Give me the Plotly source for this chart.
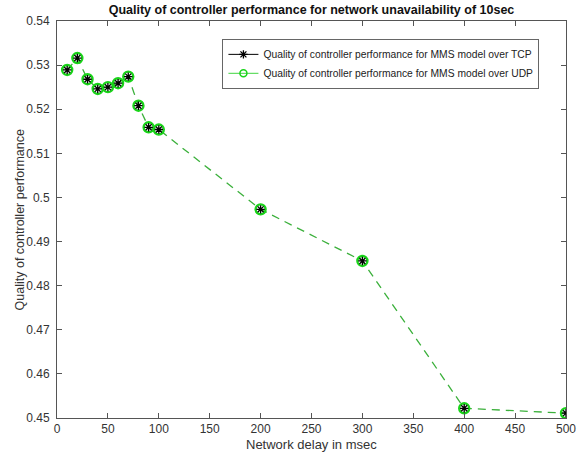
import plotly.graph_objects as go

delay_ms = [10, 20, 30, 40, 50, 60, 70, 80, 90, 100, 200, 300, 400, 500]
tcp_quality = [0.5289, 0.5316, 0.5268, 0.5246, 0.5250, 0.5259, 0.5274, 0.5208, 0.5159, 0.5154, 0.4973, 0.4856, 0.4522, 0.4511]
udp_quality = [0.5289, 0.5316, 0.5268, 0.5246, 0.5250, 0.5259, 0.5274, 0.5208, 0.5159, 0.5154, 0.4973, 0.4856, 0.4522, 0.4511]

x_ticks = [0, 50, 100, 150, 200, 250, 300, 350, 400, 450, 500]
y_ticks = [0.45, 0.46, 0.47, 0.48, 0.49, 0.50, 0.51, 0.52, 0.53, 0.54]
y_tick_text = ["0.45", "0.46", "0.47", "0.48", "0.49", "0.5", "0.51", "0.52", "0.53", "0.54"]

tcp_name = "Quality of controller performance for MMS model over TCP"
udp_name = "Quality of controller performance for MMS model over UDP"

GREEN = "#19d419"
LINE_GREEN = "#3bb03b"
FONT = "Liberation Sans, Arial, sans-serif"

fig = go.Figure()

# data traces
fig.add_trace(go.Scatter(
    x=delay_ms, y=udp_quality, mode="lines+markers", showlegend=False,
    line=dict(color=LINE_GREEN, width=1.3, dash="8px,6px"),
    marker=dict(symbol="circle-open", size=10, color=GREEN, line=dict(width=2.4, color=GREEN)),
))
fig.add_trace(go.Scatter(
    x=delay_ms, y=tcp_quality, mode="markers", showlegend=False,
    marker=dict(symbol="asterisk-open", size=7, color="black", line=dict(width=1.3, color="black")),
))

# legend entries
fig.add_trace(go.Scatter(
    x=[None], y=[None], mode="lines+markers", name=tcp_name,
    line=dict(color="black", width=1),
    marker=dict(symbol="asterisk-open", size=7, color="black", line=dict(width=1.3, color="black")),
))
fig.add_trace(go.Scatter(
    x=[None], y=[None], mode="lines+markers", name=udp_name,
    line=dict(color="#66dd66", width=1.2),
    marker=dict(symbol="circle-open", size=7, color=GREEN, line=dict(width=1.5, color=GREEN)),
))

axis_common = dict(
    showline=True, linecolor="#555", linewidth=1, mirror="ticks",
    ticks="inside", ticklen=5, tickcolor="#555", tickwidth=1,
    showgrid=False, zeroline=False, automargin=False,
    tickfont=dict(family=FONT, size=12, color="#333"),
)

fig.update_layout(
    width=585, height=456,
    margin=dict(l=57, r=19, t=21, b=38),
    paper_bgcolor="white", plot_bgcolor="white",
    font=dict(family=FONT, color="#222"),
    title=dict(
        text="<b>Quality of controller performance for network unavailability of 10sec</b>",
        font=dict(family=FONT, size=12.5, color="#111"),
        x=0.5, xref="paper", xanchor="center",
        y=1 - 9.5 / 456, yref="container", yanchor="middle",
    ),
    xaxis=dict(range=[0, 500], tickvals=x_ticks, ticklabelstandoff=0, **axis_common),
    yaxis=dict(range=[0.45, 0.54], tickvals=y_ticks, ticktext=y_tick_text,
               ticklabelstandoff=4, **axis_common),
    legend=dict(
        x=0.325, y=0.955, xanchor="left", yanchor="top",
        bgcolor="white", bordercolor="#666", borderwidth=1,
        font=dict(family=FONT, size=10.3, color="#222"),
        tracegroupgap=0, itemwidth=30,
    ),
    showlegend=True,
    annotations=[
        dict(text="Network delay in msec", xref="paper", yref="paper",
             x=0.5, y=-(445 - 418) / 397, xanchor="center", yanchor="middle",
             showarrow=False, font=dict(family=FONT, size=13, color="#333")),
        dict(text="Quality of controller performance", xref="paper", yref="paper",
             x=-(57 - 20) / 508, y=0.5, xanchor="center", yanchor="middle", textangle=-90,
             showarrow=False, font=dict(family=FONT, size=12.5, color="#333")),
    ],
)

fig.write_html("out.html", config={"displayModeBar": False},
               post_script="document.body.style.margin='0';")
